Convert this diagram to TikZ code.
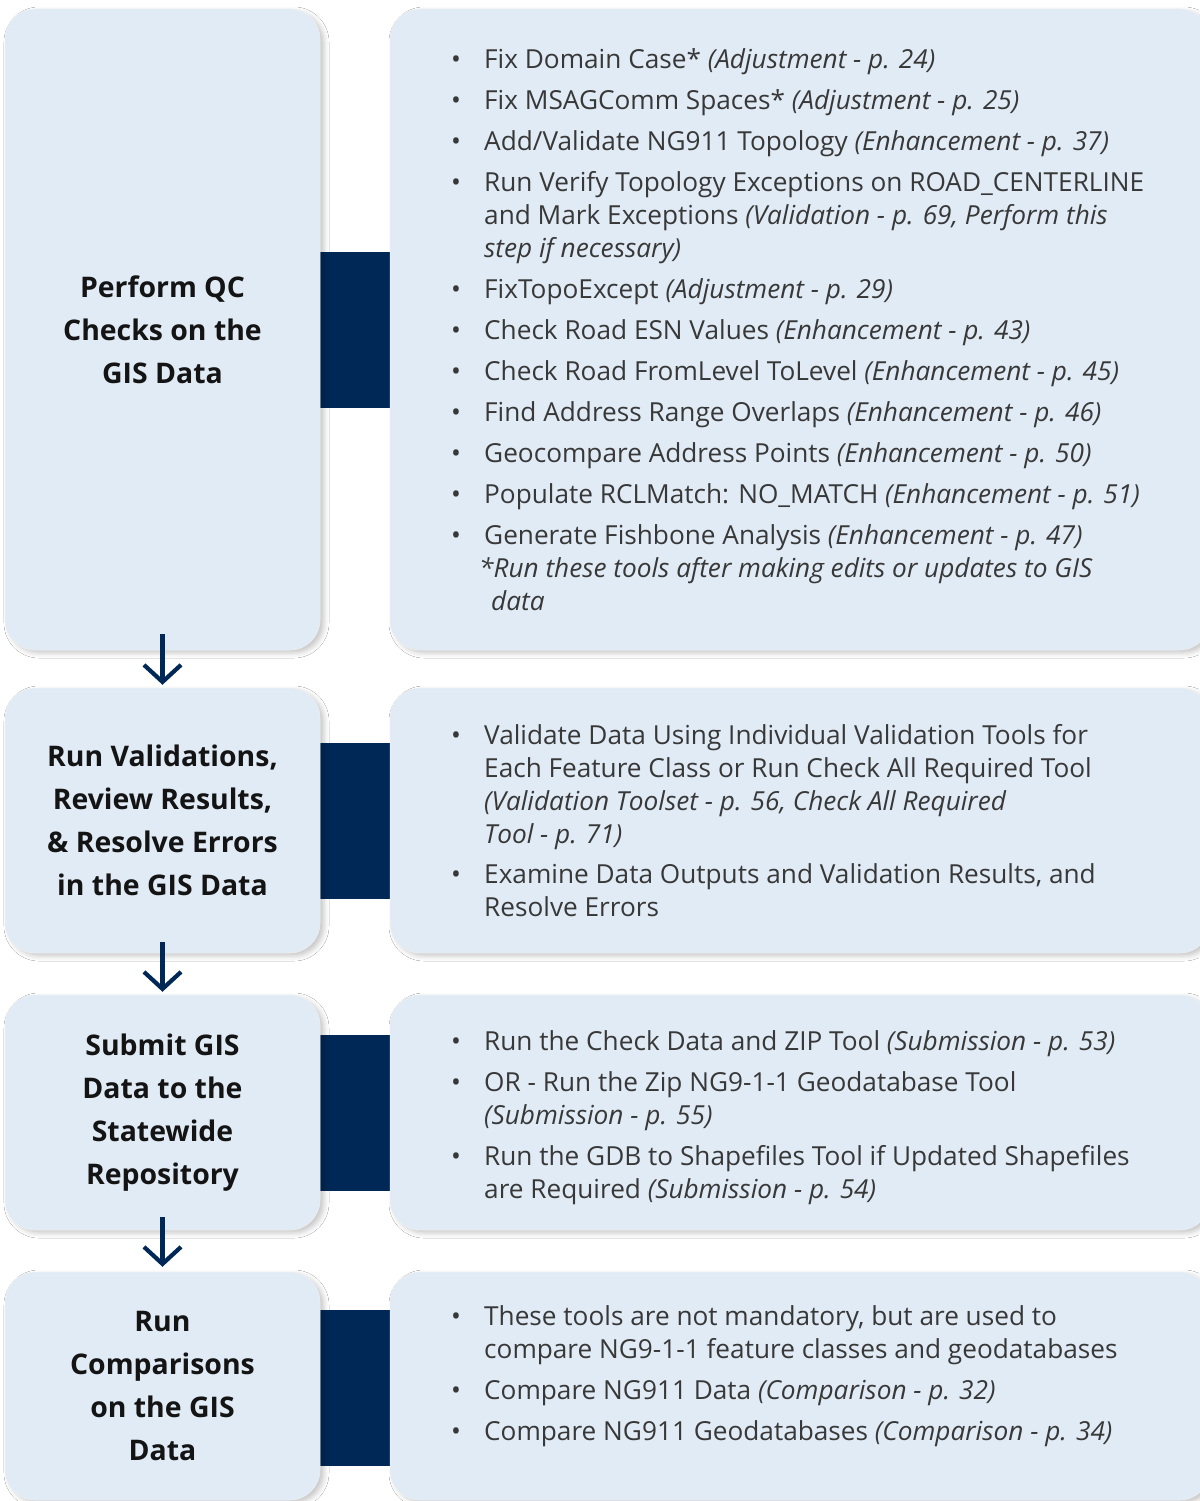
\documentclass[tikz,border=0pt]{standalone}
\usepackage{fontspec}
\setmainfont{Open Sans}
\usetikzlibrary{shadows.blur,arrows.meta}
\definecolor{boxfill}{HTML}{E1EBF5}
\definecolor{navy}{HTML}{002856}
\definecolor{txt}{HTML}{383838}
\newcommand{\bul}{\makebox[32pt][l]{\hspace{-1pt}•}}
\tikzset{
  panel/.style={rectangle, rounded corners=30pt, fill=boxfill, draw=black!6, line width=0.5pt,
    inner sep=0pt,
    blur shadow={shadow xshift=4pt, shadow yshift=-3pt, shadow blur radius=5pt, shadow opacity=22}},
  lbox/.style={panel, minimum width=315pt, align=center,
    font=\fontsize{28.4}{43}\selectfont\bfseries, text=black!92},
  rbox/.style={panel, minimum width=820pt},
  bar/.style={rectangle, fill=navy, draw=none, inner sep=0pt, minimum width=70pt, minimum height=156pt},
  list/.style={anchor=north west, inner sep=0pt, text=txt, font=\fontsize{26.2}{33}\selectfont},
  flow/.style={draw=navy, line width=4.2pt, -{Straight Barb[length=17pt,width=37pt]}}
}
\begin{document}
\begin{tikzpicture}[x=1pt,y=-1pt]
\useasboundingbox (0,0) rectangle (1199,1501);
\fill[white] (0,0) rectangle (1199,1501);

% connector bars
\node[bar] (bar1) at (355,329.5) {};
\node[bar] (bar2) at (355,820.5) {};
\node[bar] (bar3) at (355,1112.5) {};
\node[bar] (bar4) at (355,1387.5) {};

% left boxes
\node[lbox, minimum height=641pt] (lb1) at (162.5,329.5) {Perform QC\\Checks on the\\GIS Data};
\node[lbox, minimum height=265pt] (lb2) at (162.5,820.5) {Run Validations,\\Review Results,\\\& Resolve Errors\\in the GIS Data};
\node[lbox, minimum height=235pt] (lb3) at (162.5,1112.5) {Submit GIS\\Data to the\\Statewide\\Repository};
\node[lbox, minimum height=228pt] (lb4) at (162.5,1386) {Run\\Comparisons\\on the GIS\\Data};

% right boxes
\node[rbox, minimum height=641pt] (rb1) at (800,329.5) {};
\node[rbox, minimum height=265pt] (rb2) at (800,820.5) {};
\node[rbox, minimum height=235pt] (rb3) at (800,1112.5) {};
\node[rbox, minimum height=228pt] (rb4) at (800,1386) {};

% lists
\node[list] (t1) at (452,45) {\begin{tabular}{@{}l@{}}
\bul Fix Domain Case* \textit{(Adjustment - p. 24)}\\[8pt]
\bul Fix MSAGComm Spaces* \textit{(Adjustment - p. 25)}\\[8pt]
\bul Add/Validate NG911 Topology \textit{(Enhancement - p. 37)}\\[8pt]
\bul Run Verify Topology Exceptions on ROAD\_CENTERLINE\\
\hspace{32pt}and Mark Exceptions \textit{(Validation - p. 69, Perform this}\\
\hspace{32pt}\textit{step if necessary)}\\[8pt]
\bul FixTopoExcept \textit{(Adjustment - p. 29)}\\[8pt]
\bul Check Road ESN Values \textit{(Enhancement - p. 43)}\\[8pt]
\bul Check Road FromLevel ToLevel \textit{(Enhancement - p. 45)}\\[8pt]
\bul Find Address Range Overlaps \textit{(Enhancement - p. 46)}\\[8pt]
\bul Geocompare Address Points \textit{(Enhancement - p. 50)}\\[8pt]
\bul Populate RCLMatch: NO\_MATCH \textit{(Enhancement - p. 51)}\\[8pt]
\bul Generate Fishbone Analysis \textit{(Enhancement - p. 47)}\\
\hspace{27pt}\textit{*Run these tools after making edits or updates to GIS}\\
\hspace{39pt}\textit{data}
\end{tabular}};

\node[list] (t2) at (452,721) {\begin{tabular}{@{}l@{}}
\bul Validate Data Using Individual Validation Tools for\\
\hspace{32pt}Each Feature Class or Run Check All Required Tool\\
\hspace{32pt}\textit{(Validation Toolset - p. 56, Check All Required}\\
\hspace{32pt}\textit{Tool - p. 71)}\\[7pt]
\bul Examine Data Outputs and Validation Results, and\\
\hspace{32pt}Resolve Errors
\end{tabular}};

\node[list] (t3) at (452,1027) {\begin{tabular}{@{}l@{}}
\bul Run the Check Data and ZIP Tool \textit{(Submission - p. 53)}\\[8pt]
\bul OR - Run the Zip NG9-1-1 Geodatabase Tool\\
\hspace{32pt}\textit{(Submission - p. 55)}\\[8pt]
\bul Run the GDB to Shapefiles Tool if Updated Shapefiles\\
\hspace{32pt}are Required \textit{(Submission - p. 54)}
\end{tabular}};

\node[list] (t4) at (452,1302) {\begin{tabular}{@{}l@{}}
\bul These tools are not mandatory, but are used to\\
\hspace{32pt}compare NG9-1-1 feature classes and geodatabases\\[8pt]
\bul Compare NG911 Data \textit{(Comparison - p. 32)}\\[8pt]
\bul Compare NG911 Geodatabases \textit{(Comparison - p. 34)}
\end{tabular}};

% flow arrows
\draw[flow] ([yshift=16pt]lb1.south) -- ([yshift=3pt]lb2.north);
\draw[flow] ([yshift=11pt]lb2.south) -- ([yshift=3pt]lb3.north);
\draw[flow] ([yshift=13pt]lb3.south) -- ([yshift=5pt]lb4.north);
\end{tikzpicture}
\end{document}
